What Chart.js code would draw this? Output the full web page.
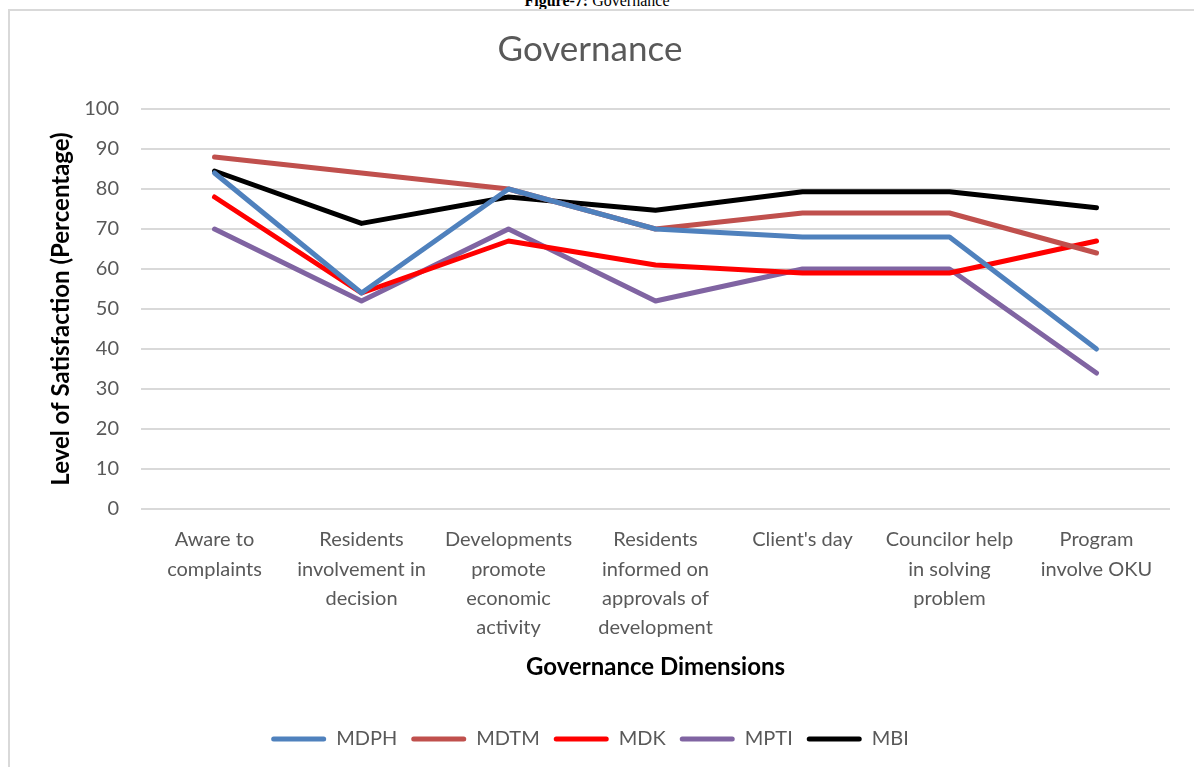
<!DOCTYPE html>
<html>
<head>
<meta charset="utf-8">
<script src="https://cdn.jsdelivr.net/npm/chart.js@4.4.1/dist/chart.umd.min.js"></script>
<style>
  html, body { margin: 0; padding: 0; background: #fff; overflow: hidden; }
  body { width: 1194px; height: 767px; position: relative; }
  #caption {
    position: absolute; left: 0; width: 1194px; top: -7px;
    text-align: center; font: 16px "Liberation Serif", serif; line-height: 16px; color: #000;
  }
  #frame {
    position: absolute; left: 8px; top: 9px; width: 1200px; height: 770px;
    border-left: 2px solid #d9d9d9; border-top: 2px solid #d9d9d9;
  }
  #wrap { position: absolute; left: 10px; top: 11px; width: 1184px; height: 756px; }
</style>
</head>
<body>
<div id="caption"><b>Figure-7:</b> Governance</div>
<div id="frame"></div>
<div id="wrap"><canvas id="chart"></canvas></div>
<script>
const categories = [
  ['Aware to', 'complaints'],
  ['Residents', 'involvement in', 'decision'],
  ['Developments', 'promote', 'economic', 'activity'],
  ['Residents', 'informed on', 'approvals of', 'development'],
  ["Client's day"],
  ['Councilor help', 'in solving', 'problem'],
  ['Program', 'involve OKU']
];

const mdph = [84, 54, 80, 70, 68, 68, 40];
const mdtm = [88, 84, 80, 70, 74, 74, 64];
const mdk  = [78, 54, 67, 61, 59, 59, 67];
const mpti = [70, 52, 70, 52, 60, 60, 34];
const mbi  = [84.5, 71.4, 78, 74.7, 79.3, 79.3, 75.3];

const seriesNames = ['MDPH', 'MDTM', 'MDK', 'MPTI', 'MBI'];
const seriesColors = ['#4f81bd', '#c0504d', '#ff0000', '#8064a2', '#000000'];
const seriesValues = [mdph, mdtm, mdk, mpti, mbi];

const grey = '#595959';
const font = '"Lato", "Open Sans", sans-serif';

new Chart(document.getElementById('chart'), {
  type: 'line',
  data: {
    labels: categories,
    datasets: seriesNames.map((name, i) => ({
      label: name,
      data: seriesValues[i],
      borderColor: seriesColors[i],
      backgroundColor: seriesColors[i],
      borderWidth: 5,
      borderCapStyle: 'round',
      borderJoinStyle: 'round',
      pointRadius: 0,
      tension: 0
    }))
  },
  options: {
    responsive: true,
    maintainAspectRatio: false,
    animation: false,
    layout: { padding: { left: 0, right: 24, top: 0, bottom: 8 } },
    plugins: {
      title: {
        display: true,
        text: 'Governance',
        color: grey,
        font: { family: font, size: 35, weight: 'normal' },
        padding: { top: 18, bottom: 38 }
      },
      legend: {
        position: 'bottom',
        labels: {
          color: grey,
          font: { family: font, size: 20 },
          boxWidth: 55,
          boxHeight: 5,
          padding: 14,
          useBorderRadius: true,
          borderRadius: 2.5,
          generateLabels: (chart) =>
            Chart.defaults.plugins.legend.labels.generateLabels(chart)
              .map(l => ({ ...l, lineWidth: 0 }))
        }
      },
      tooltip: { enabled: false }
    },
    scales: {
      x: {
        offset: true,
        grid: { display: false, drawTicks: false },
        border: { display: false },
        ticks: {
          color: grey,
          font: { family: font, size: 20, lineHeight: 1.47 },
          padding: 16,
          maxRotation: 0,
          autoSkip: false
        },
        title: {
          display: true,
          text: 'Governance Dimensions',
          color: '#000',
          font: { family: font, size: 24, weight: 'bold' },
          padding: { top: 10, bottom: 33 }
        },
        afterFit: (scale) => { scale.height = 206; }
      },
      y: {
        min: 0,
        max: 100,
        grid: { color: '#d9d9d9', lineWidth: 2, drawTicks: false },
        border: { display: false },
        ticks: {
          stepSize: 10,
          color: grey,
          font: { family: font, size: 20 },
          padding: 22
        },
        title: {
          display: true,
          text: 'Level of Satisfaction (Percentage)',
          color: '#000',
          font: { family: font, size: 24, weight: 'bold' },
          padding: { top: 37, bottom: 0 }
        },
        afterFit: (scale) => { scale.width = 131; }
      }
    }
  }
});
</script>
</body>
</html>
